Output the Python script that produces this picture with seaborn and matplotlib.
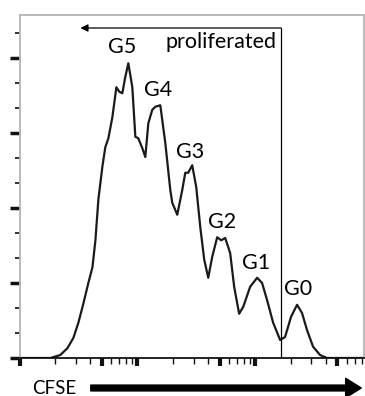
import numpy as np
import pandas as pd
import matplotlib
matplotlib.use("Agg")
import matplotlib.pyplot as plt
from matplotlib.ticker import FixedLocator, NullFormatter
import seaborn as sns

# ---- data ----
cfse = [102, 183, 222, 255, 287, 316, 349, 384, 416, 441, 467, 505, 535, 568,
        614, 664, 704, 746, 791, 839, 907, 962, 1019, 1102, 1169, 1240, 1340,
        1422, 1567, 1727, 1905, 1980, 2183, 2406, 2553, 2704, 2924, 3162,
        3420, 3698, 3999, 4324, 4764, 5152, 5570, 6138, 6637, 7313, 7913,
        9075, 10400, 11455, 12640, 14220, 16300, 17950, 20180, 22700, 25000,
        27600, 31040, 35580, 40740, 83900]
count = [0.0, 0.0, 0.04, 0.13, 0.27, 0.47, 0.73, 1.0, 1.21, 1.57, 2.11, 2.55,
         2.81, 2.93, 3.21, 3.61, 3.55, 3.53, 3.75, 3.93, 3.61, 2.95, 2.93,
         2.8, 2.68, 3.13, 3.31, 3.35, 3.37, 2.87, 2.24, 2.07, 1.91, 2.24,
         2.47, 2.47, 2.57, 2.28, 1.75, 1.31, 1.07, 1.35, 1.61, 1.57, 1.6,
         1.4, 0.95, 0.59, 0.68, 0.95, 1.07, 1.0, 0.77, 0.47, 0.24, 0.28,
         0.55, 0.71, 0.6, 0.37, 0.15, 0.04, 0.0, 0.0]

gen_labels = ["G5", "G4", "G3", "G2", "G1", "G0"]
gen_x = [746, 1507, 2812, 5250, 10190, 23140]
gen_y = [4.15, 3.57, 2.75, 1.81, 1.27, 0.92]

gate_x = 16595
arrow_end_x = 329
gate_top = 4.4

x_major = [100, 500, 1000, 5000, 10000, 50000]
x_minor = [200, 300, 400, 600, 700, 800, 900, 2000, 3000, 4000, 6000, 7000,
           8000, 9000, 20000, 30000, 40000, 60000, 70000, 80000]
y_major = [0, 1, 2, 3, 4]
y_minor = [1/3, 2/3, 4/3, 5/3, 7/3, 8/3, 10/3, 11/3, 13/3]

df = pd.DataFrame({"CFSE": cfse, "count": count})

sns.set_style("white")
plt.rcParams["font.family"] = ["Lato", "DejaVu Sans"]

fig = plt.figure(figsize=(3.65, 3.96), dpi=100)
W, H = 365, 396
ax = fig.add_axes([19.5 / W, (H - 358) / H, (364 - 19.5) / W, (358 - 14.5) / H])

sns.lineplot(data=df, x="CFSE", y="count", ax=ax, color="#1a1a1a",
             linewidth=1.6, sort=False, solid_joinstyle="round",
             solid_capstyle="round")
ax.set_xscale("log")
ax.set_xlim(100, 10 ** 4.924)
ax.set_ylim(0, 4.58)

ax.xaxis.set_major_locator(FixedLocator(x_major))
ax.xaxis.set_minor_locator(FixedLocator(x_minor))
ax.yaxis.set_major_locator(FixedLocator(y_major))
ax.yaxis.set_minor_locator(FixedLocator(y_minor))
ax.xaxis.set_major_formatter(NullFormatter())
ax.xaxis.set_minor_formatter(NullFormatter())
ax.yaxis.set_major_formatter(NullFormatter())
ax.set_xlabel("")
ax.set_ylabel("")

ax.tick_params(axis="x", which="major", direction="out", length=6, width=3,
               color="#111111", bottom=True)
ax.tick_params(axis="x", which="minor", direction="out", length=4, width=1,
               color="#111111", bottom=True)
ax.tick_params(axis="y", which="major", direction="out", length=7, width=2.5,
               color="#111111", left=True)
ax.tick_params(axis="y", which="minor", direction="out", length=3.5, width=1.2,
               color="#111111", left=True)

for s in ["top", "right", "left"]:
    ax.spines[s].set_color("#b5b5b5")
    ax.spines[s].set_linewidth(1.3)
ax.spines["bottom"].set_color("#111111")
ax.spines["bottom"].set_linewidth(1.3)

# gate line and arrow
ax.plot([gate_x, gate_x], [0, gate_top], color="black", linewidth=0.9)
ax.annotate("", xy=(arrow_end_x, gate_top), xytext=(gate_x, gate_top),
            arrowprops=dict(arrowstyle="-|>", color="black", lw=0.9,
                            mutation_scale=11, shrinkA=0, shrinkB=0))
ax.text(15070, 4.21, "proliferated", ha="right", va="center", fontsize=15.5,
        color="black")

for lab, gx, gy in zip(gen_labels, gen_x, gen_y):
    ax.text(gx, gy, lab, ha="center", va="center", fontsize=15.5, color="black")

# CFSE axis caption with arrow
fig.text(32 / W, 1 - 388 / H, "CFSE", ha="left", va="center", fontsize=13.5,
         color="black")
fig.patches.append(matplotlib.patches.FancyArrowPatch(
    (88 / W, 1 - 388 / H), (364 / W, 1 - 388 / H), transform=fig.transFigure,
    arrowstyle="simple,head_length=0.8,tail_width=0.3,head_width=1.0",
    mutation_scale=14, color="black"))

fig.savefig("out.png", dpi=100)
